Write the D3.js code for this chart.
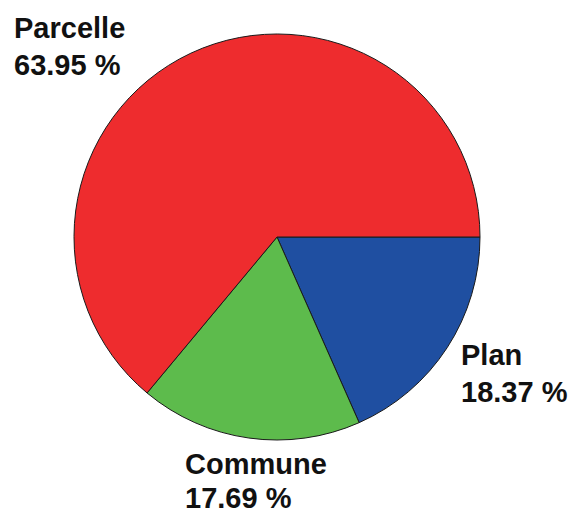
<!DOCTYPE html>
<html>
<head>
<meta charset="utf-8">
<script src="https://cdn.jsdelivr.net/npm/d3@7"></script>
<style>
  body { margin: 0; background: #fff; }
  svg text { font-family: "Liberation Sans", Arial, sans-serif; font-weight: bold; fill: #111; }
</style>
</head>
<body>
<div id="chart"></div>
<script>
// slice data, in drawing order (clockwise from 3 o'clock)
const categories = ['Plan', 'Commune', 'Parcelle'];
const percents = [18.37, 17.69, 63.95];
const colors = ['#1f4fa1', '#5dbb4c', '#ee2c2e'];
// label baseline of first line, and gap to second line
const labelPos = [[461, 365], [185, 474], [14, 38]];
const lineGap = [37, 34, 37];

const width = 576, height = 513;
const cx = 277, cy = 237, radius = 203;

const svg = d3.select('#chart')
  .append('svg')
  .attr('width', width)
  .attr('height', height);

const pie = d3.pie()
  .sort(null)
  .value(d => d)
  .startAngle(Math.PI / 2)
  .endAngle(Math.PI / 2 + 2 * Math.PI);

const arc = d3.arc().innerRadius(0).outerRadius(radius);

const g = svg.append('g').attr('transform', `translate(${cx},${cy})`);

g.selectAll('path')
  .data(pie(percents))
  .enter()
  .append('path')
  .attr('d', arc)
  .attr('fill', (d, i) => colors[i])
  .attr('stroke', '#1a1a1a')
  .attr('stroke-width', 1);

// labels
const labels = svg.append('g')
  .selectAll('text')
  .data(categories)
  .enter()
  .append('text')
  .attr('x', (d, i) => labelPos[i][0])
  .attr('y', (d, i) => labelPos[i][1])
  .style('font-size', '29px');

labels.append('tspan')
  .text(d => d);

labels.append('tspan')
  .attr('x', (d, i) => labelPos[i][0])
  .attr('dy', (d, i) => lineGap[i])
  .text((d, i) => percents[i].toFixed(2) + ' %');
</script>
</body>
</html>
